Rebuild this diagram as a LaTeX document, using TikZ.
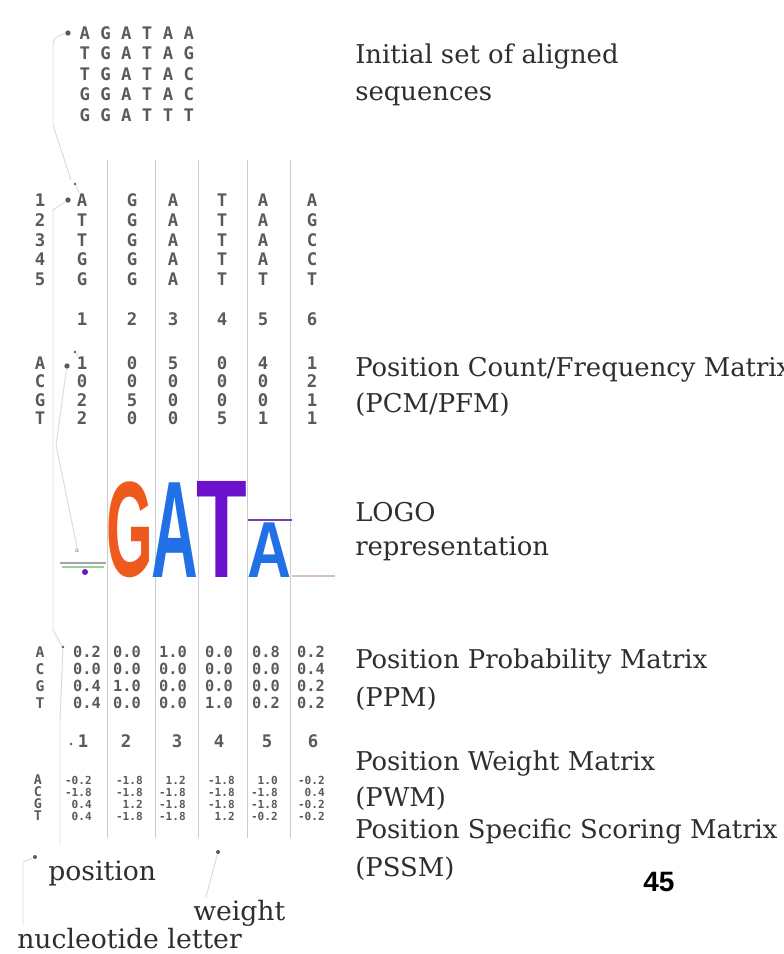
\documentclass[tikz,border=0pt]{standalone}
\usepackage{fontspec}
\setmainfont{DejaVu Serif}
\newfontfamily\monof{DejaVu Sans Mono}
\newfontfamily\logof{Liberation Sans}
\newfontfamily\labf{DejaVu Serif}
\definecolor{mgray}{HTML}{5A5A5A}
\definecolor{tgray}{HTML}{2E2E2E}
\definecolor{vline}{HTML}{CCCCCC}
\definecolor{faint}{HTML}{DADADA}
\definecolor{logoG}{HTML}{EE5A1E}
\definecolor{logoA}{HTML}{2170E6}
\definecolor{logoT}{HTML}{6C12CC}
\begin{document}
\begin{tikzpicture}[x=0.75pt,y=-0.75pt,
  seqt/.style={font=\monof\bfseries\fontsize{13}{13}\selectfont, text=mgray, inner sep=0},
  ppmt/.style={font=\monof\bfseries\fontsize{11.5}{11.5}\selectfont, text=mgray, inner sep=0, anchor=east},
  pwmt/.style={font=\monof\bfseries\fontsize{8.3}{8.3}\selectfont, text=mgray, inner sep=0, anchor=east},
  rowl/.style={font=\monof\bfseries\fontsize{11}{11}\selectfont, text=mgray, inner sep=0},
  rows/.style={font=\monof\bfseries\fontsize{10}{10}\selectfont, text=mgray, inner sep=0},
  lab/.style={font=\labf\fontsize{19.4}{19.4}\selectfont, text=tgray, anchor=base west, inner sep=0},
  blab/.style={font=\labf\fontsize{20}{20}\selectfont, text=tgray, anchor=base west, inner sep=0},
  sepline/.style={draw=vline, line width=0.7pt},
  conn/.style={draw=faint, line width=0.7pt},
  mdot/.style={circle, fill=mgray, inner sep=0, minimum size=4pt},
  tdot/.style={circle, fill=mgray, inner sep=0, minimum size=2pt}]
\useasboundingbox (0,0) rectangle (783,954);
\clip (0,0) rectangle (783,954);

% column separator lines
\foreach \x [count=\i] in {107,155,198,247,290}{
  \coordinate (vt\i) at (\x,160);
  \coordinate (vb\i) at (\x,838);
  \draw[sepline] (vt\i) -- (vb\i);
}

% faint tracing connectors for position 1
\coordinate (f0) at (53,45);
\coordinate (f1) at (53,125);
\coordinate (f2) at (53,210);
\coordinate (f3) at (53,630);
\coordinate (f4) at (56,445);
\coordinate (f5) at (60,720);
\coordinate (f6) at (60,845);
\coordinate (f7) at (23,862);
\coordinate (f8) at (23,925);
\coordinate (f10) at (206,897);

% sequences block
\node[mdot] (d0) at (68,33) {};
\foreach \seq [count=\r] in {{A,G,A,T,A,A},{T,G,A,T,A,G},{T,G,A,T,A,C},{G,G,A,T,A,C},{G,G,A,T,T,T}}{
  \foreach \l [count=\c] in \seq {
    \node[seqt] (s\r\c) at ({64+20.8*\c},{33+20.5*(\r-1)}) {\l};
  }
}
\draw[conn] (d0) .. controls (55,36) and (53,40) .. (f0) -- (f1) -- (71,180);

% column block
\foreach \n [count=\r] in {1,2,3,4,5}{
  \pgfmathsetmacro\yy{{200,220,240,259,279}[\r-1]}
  \node[seqt] (cr\r) at (40,\yy) {\n};
}
\foreach \seq [count=\r] in {{A,G,A,T,A,A},{T,G,A,T,A,G},{T,G,A,T,A,C},{G,G,A,T,A,C},{G,G,A,T,T,T}}{
  \pgfmathsetmacro\yy{{200,220,240,259,279}[\r-1]}
  \foreach \l [count=\c] in \seq {
    \pgfmathsetmacro\xx{{82,132,173,222,263,312}[\c-1]}
    \node[seqt] (c\r\c) at (\xx,\yy) {\l};
  }
}
\node[mdot] (d1) at (68,200) {};
\node[tdot] (t1) at (75,184) {};
\draw[conn] (t1) .. controls (78,190) .. (c11);
\foreach \n [count=\c] in {1,2,3,4,5,6}{
  \pgfmathsetmacro\xx{{82,132,173,222,263,312}[\c-1]}
  \node[seqt] (ci\c) at (\xx,319) {\n};
}
\draw[conn] (d1) -- (f2) -- (f3) -- (62,646);

% PCM
\foreach \n [count=\r] in {A,C,G,T}{
  \pgfmathsetmacro\yy{{363,381,400,418}[\r-1]}
  \node[seqt] (pr\r) at (40,\yy) {\n};
}
\foreach \vals [count=\r] in {{1,0,5,0,4,1},{0,0,0,0,0,2},{2,5,0,0,0,1},{2,0,0,5,1,1}}{
  \pgfmathsetmacro\yy{{363,381,400,418}[\r-1]}
  \foreach \v [count=\c] in \vals {
    \pgfmathsetmacro\xx{{82,132,173,222,263,312}[\c-1]}
    \node[seqt] (p\r\c) at (\xx,\yy) {\v};
  }
}
\node[mdot] (d2) at (67,366) {};
\node[tdot] (t2) at (75,352) {};
\draw[conn] (t2) .. controls (78,356) .. (p11);
\draw[conn] (d2) -- (f4) -- (77,547);

% LOGO
\node[inner sep=0, anchor=south west] (lgG) at (106,578) {\resizebox{35pt}{71pt}{\logof\bfseries\color{logoG}G}};
\node[inner sep=0, anchor=south west] (lgA) at (151,578) {\resizebox{35pt}{71pt}{\logof\bfseries\color{logoA}A}};
\node[inner sep=0, anchor=south west] (lgT) at (196,578) {\resizebox{38pt}{72pt}{\logof\bfseries\color{logoT}T}};
\node[inner sep=0, anchor=south west] (lgA2) at (247,578) {\resizebox{33pt}{41pt}{\logof\bfseries\color{logoA}A}};
\coordinate (tA1) at (248,520);
\coordinate (tA2) at (292,520);
\draw[draw=logoT!55!gray, line width=1.5pt] (tA1) -- (tA2);
\coordinate (c6a) at (292,576);
\coordinate (c6b) at (335,576);
\draw[draw=red!25!gray!40, line width=1.2pt] (c6a) -- (c6b);
\coordinate (c1a) at (60,563);
\coordinate (c1b) at (106,563);
\coordinate (c1c) at (62,567);
\coordinate (c1d) at (104,567);
\draw[draw=gray!70, line width=1.2pt] (c1a) -- (c1b);
\draw[draw=green!40!gray!60, line width=0.8pt] (c1c) -- (c1d);
\node[font=\logof\fontsize{5}{5}\selectfont, text=gray, inner sep=0] (c1t) at (77,551) {a};
\node[circle, fill=logoT, inner sep=0, minimum size=4.5pt] (c1p) at (85,572) {};

% PPM
\foreach \n [count=\r] in {A,C,G,T}{
  \pgfmathsetmacro\yy{{652,669,686,703}[\r-1]}
  \node[rowl] (qr\r) at (40,\yy) {\n};
}
\foreach \vals [count=\r] in {{0.2,0.0,1.0,0.0,0.8,0.2},{0.0,0.0,0.0,0.0,0.0,0.4},{0.4,1.0,0.0,0.0,0.0,0.2},{0.4,0.0,0.0,1.0,0.2,0.2}}{
  \pgfmathsetmacro\yy{{652,669,686,703}[\r-1]}
  \foreach \v [count=\c] in \vals {
    \pgfmathsetmacro\xx{{101,141,187,233,280,325}[\c-1]}
    \node[ppmt] (q\r\c) at (\xx,\yy) {\v};
  }
}
\node[tdot] (d3) at (63,647) {};
\draw[conn] (d3) -- (f5) -- (f6);

% PWM
\foreach \n [count=\c] in {1,2,3,4,5,6}{
  \pgfmathsetmacro\xx{{83,126,177,219,267,313}[\c-1]}
  \node[seqt] (wi\c) at (\xx,741) {\n};
}
\node[tdot] (d4) at (71,744) {};
\foreach \n [count=\r] in {A,C,G,T}{
  \pgfmathsetmacro\yy{{780,792,804,816}[\r-1]}
  \node[rows] (wr\r) at (38,\yy) {\n};
}
\foreach \vals [count=\r] in {{-0.2,-1.8,1.2,-1.8,1.0,-0.2},{-1.8,-1.8,-1.8,-1.8,-1.8,0.4},{0.4,1.2,-1.8,-1.8,-1.8,-0.2},{0.4,-1.8,-1.8,1.2,-0.2,-0.2}}{
  \pgfmathsetmacro\yy{{780,792,804,816}[\r-1]}
  \foreach \v [count=\c] in \vals {
    \pgfmathsetmacro\xx{{92,143,186,235,278,325}[\c-1]}
    \node[pwmt] (w\r\c) at (\xx,\yy) {\v};
  }
}

% bottom pointers
\node[tdot, minimum size=3pt] (m1) at (35,857) {};
\node[tdot, minimum size=3pt] (m2) at (218,852) {};
\draw[conn] (m1) -- (f7) -- (f8);
\draw[conn] (m2) -- (f10);

% right-hand labels
\node[lab] (l1a) at (355,63) {Initial set of aligned};
\node[lab] (l1b) at (355,100) {sequences};
\node[lab] (l2a) at (355,376) {Position Count/Frequency Matrix};
\node[lab] (l2b) at (355,412) {(PCM/PFM)};
\node[lab] (l3a) at (355,521) {LOGO};
\node[lab] (l3b) at (355,555) {representation};
\node[lab] (l4a) at (355,668) {Position Probability Matrix};
\node[lab] (l4b) at (355,706) {(PPM)};
\node[lab] (l5a) at (355,770) {Position Weight Matrix};
\node[lab] (l5b) at (355,806) {(PWM)};
\node[lab] (l5c) at (355,838) {Position Specific Scoring Matrix};
\node[lab] (l5d) at (355,876) {(PSSM)};

% bottom labels
\node[blab] (bpos) at (48,880) {position};
\node[blab] (bwei) at (193,920) {weight};
\node[blab] (bnuc) at (17,948) {nucleotide letter};
\node[font=\logof\bfseries\fontsize{21}{21}\selectfont, text=black, anchor=base west, inner sep=0] (pg) at (643,891) {45};
\end{tikzpicture}
\end{document}
